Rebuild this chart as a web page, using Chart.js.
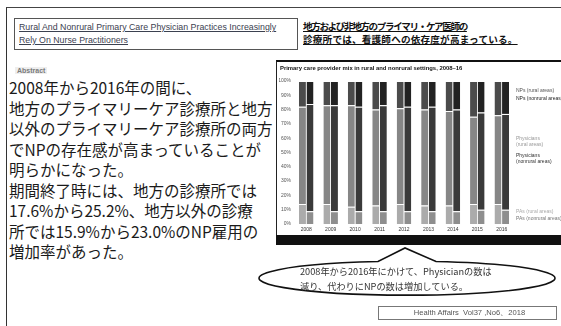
<!DOCTYPE html>
<html>
<head>
<meta charset="utf-8">
<script src="https://cdn.jsdelivr.net/npm/chart.js@4"></script>
<style>
  html, body { margin: 0; padding: 0; background: #fff; }
  body { width: 561px; height: 326px; position: relative; overflow: hidden; font-family: "Noto Sans CJK JP", sans-serif; }
  .abs { position: absolute; }
  #slide { left: 6px; top: 7px; width: 560px; height: 330px; border-left: 1.5px solid #333; border-top: 1.5px solid #444; }
  #enBox { left: 14px; top: 18px; width: 284px; height: 32px; border: 1px solid #555; box-sizing: border-box; }
  #enTitle { left: 19px; top: 21px; font-family: "Liberation Sans", sans-serif; font-size: 8.8px; line-height: 13px; color: #3b4150; text-decoration: underline; white-space: nowrap; }
  #jaTitle { left: 303px; top: 20px; font-size: 9.6px; line-height: 13px; font-weight: bold; color: #111; text-decoration: underline; white-space: nowrap; }
  #abstract { left: 15px; top: 67px; font-family: "Liberation Sans", sans-serif; font-size: 7px; font-weight: bold; color: #7a7a7a; background: #eee; padding: 0 2px; }
  #body { left: 9px; top: 77px; font-size: 15.5px; line-height: 20.5px; color: #1a1a1a; white-space: nowrap; }
  #chartBox { left: 276px; top: 60px; width: 285px; height: 175px; border-top: 2px solid #111; border-left: 1px solid #222; box-sizing: border-box; }
  #band { left: 276px; top: 235px; width: 285px; height: 10px; background: #111; }
  #callText { left: 300px; top: 264px; font-size: 9.2px; line-height: 15px; color: #333; white-space: nowrap; }
  #source { left: 378px; top: 306px; width: 179px; height: 14px; border: 1px solid #777; box-sizing: border-box; font-family: "Liberation Sans", sans-serif; font-size: 7.6px; line-height: 12px; color: #555; text-align: center; padding-left: 4px; }
</style>
</head>
<body>
<div id="slide" class="abs"></div>
<div id="enBox" class="abs"></div>
<div id="enTitle" class="abs">Rural And Nonrural Primary Care Physician Practices Increasingly<br>Rely On Nurse Practitioners</div>
<div id="jaTitle" class="abs"><span style="letter-spacing:-1.4px">地方および非地方のプライマリ・ケア医師の</span><br><span style="letter-spacing:0.2px">診療所では、看護師への依存度が高まっている。</span></div>
<div id="abstract" class="abs">Abstract</div>
<div id="body" class="abs">2008年から2016年の間に、<br>地方のプライマリーケア診療所と地方<br>以外のプライマリーケア診療所の両方<br>でNPの存在感が高まっていることが<br>明らかになった。<br>期間終了時には、地方の診療所では<br>17.6%から25.2%、地方以外の診療<br>所では15.9%から23.0%のNP雇用の<br>増加率があった。</div>

<div id="chartBox" class="abs"><canvas id="mixChart" width="284" height="173"></canvas></div>
<div id="band" class="abs"></div>

<svg class="abs" style="left:0;top:0" width="561" height="326">
  <path d="M 378 261.5 A 148 17 0 1 0 436 261.5 L 405 248 Z" fill="#fff" stroke="#111" stroke-width="1.6" stroke-linejoin="miter"/>
</svg>
<div id="callText" class="abs">2008年から2016年にかけて、Physicianの数は<br>減り、代わりにNPの数は増加している。</div>
<div id="source" class="abs">Health Affairs&nbsp;&nbsp;Vol37 ,No6、2018</div>

<script>
var years = ['2008', '2009', '2010', '2011', '2012', '2013', '2014', '2015', '2016'];

// shares of providers, percent
var ruralPA = [14, 14, 12, 13, 14, 13, 13, 14, 14];
var ruralPhys = [68, 69, 71, 67, 67, 67, 66, 61, 62];
var ruralNP = [18, 17, 17, 20, 19, 20, 21, 25, 24];
var nonruralPA = [9, 9, 9, 9, 9, 9, 9, 10, 10];
var nonruralPhys = [75, 74, 73, 74, 73, 73, 71, 68, 67];
var nonruralNP = [16, 17, 18, 17, 18, 18, 20, 22, 23];

var yTicks = ['0%', '10%', '20%', '30%', '40%', '50%', '60%', '70%', '80%', '90%', '100%'];

// labels drawn at the right of the bars
var sideLabels = [
    { lines: ['NPs (rural areas)'], at: 93, color: '#555' },
    { lines: ['NPs (nonrural areas)'], at: 88, color: '#222' },
    { lines: ['Physicians', '(rural areas)'], at: 60, color: '#999' },
    { lines: ['Physicians', '(nonrural areas)'], at: 48, color: '#333' },
    { lines: ['PAs (rural areas)'], at: 9, color: '#aaa' },
    { lines: ['PAs (nonrural areas)'], at: 3.5, color: '#777' }
];

var sideText = {
    id: 'sideText',
    afterDraw: function(chart) {
        var ctx = chart.ctx;
        var y = chart.scales.y;
        var area = chart.chartArea;
        ctx.save();
        ctx.font = 'bold 5.9px "Liberation Sans", sans-serif';
        ctx.fillStyle = '#111';
        ctx.textBaseline = 'middle';
        ctx.fillText('Primary care provider mix in rural and nonrural settings, 2008\u201316', 3, 6);
        ctx.font = '5px "Liberation Sans", sans-serif';
        sideLabels.forEach(function(l) {
            ctx.fillStyle = l.color;
            l.lines.forEach(function(t, i) {
                ctx.fillText(t, area.right + 2, y.getPixelForValue(l.at) + i * 6.5);
            });
        });
        ctx.restore();
    }
};

function seg(label, data, stack, color) {
    return {
        label: label,
        data: data,
        stack: stack,
        backgroundColor: color,
        borderColor: 'rgba(255,255,255,0.6)',
        borderWidth: { top: 1, right: 0, bottom: 0, left: 0 },
        borderSkipped: false,
        categoryPercentage: 0.62,
        barPercentage: 0.92
    };
}

var mixChart = new Chart(document.getElementById('mixChart'), {
    type: 'bar',
    data: {
        labels: years,
        datasets: [
            seg('PAs (rural areas)', ruralPA, 'rural', '#ababab'),
            seg('Physicians (rural areas)', ruralPhys, 'rural', '#868686'),
            seg('NPs (rural areas)', ruralNP, 'rural', '#4b4b4b'),
            seg('PAs (nonrural areas)', nonruralPA, 'nonrural', '#8e8e8e'),
            seg('Physicians (nonrural areas)', nonruralPhys, 'nonrural', '#3a3a3a'),
            seg('NPs (nonrural areas)', nonruralNP, 'nonrural', '#222222')
        ]
    },
    options: {
        responsive: false,
        animation: false,
        devicePixelRatio: 1,
        layout: { padding: { left: 2, right: 47, top: 19, bottom: 0 } },
        plugins: { legend: { display: false }, tooltip: { enabled: false } },
        scales: {
            x: {
                stacked: true,
                grid: { display: false, drawTicks: false },
                border: { display: false },
                ticks: { font: { size: 5, family: 'Liberation Sans' }, color: '#333', padding: 3, maxRotation: 0 },
                afterFit: function(s) { s.height = 11; }
            },
            y: {
                stacked: true,
                min: 0,
                max: 100,
                grid: { display: false, drawTicks: false },
                border: { display: false },
                ticks: {
                    stepSize: 10,
                    font: { size: 5, family: 'Liberation Sans' },
                    color: '#555',
                    padding: 3,
                    callback: function(v) { return yTicks[v / 10]; }
                },
                afterFit: function(s) { s.width = 15; }
            }
        }
    },
    plugins: [sideText]
});
</script>
</body>
</html>
